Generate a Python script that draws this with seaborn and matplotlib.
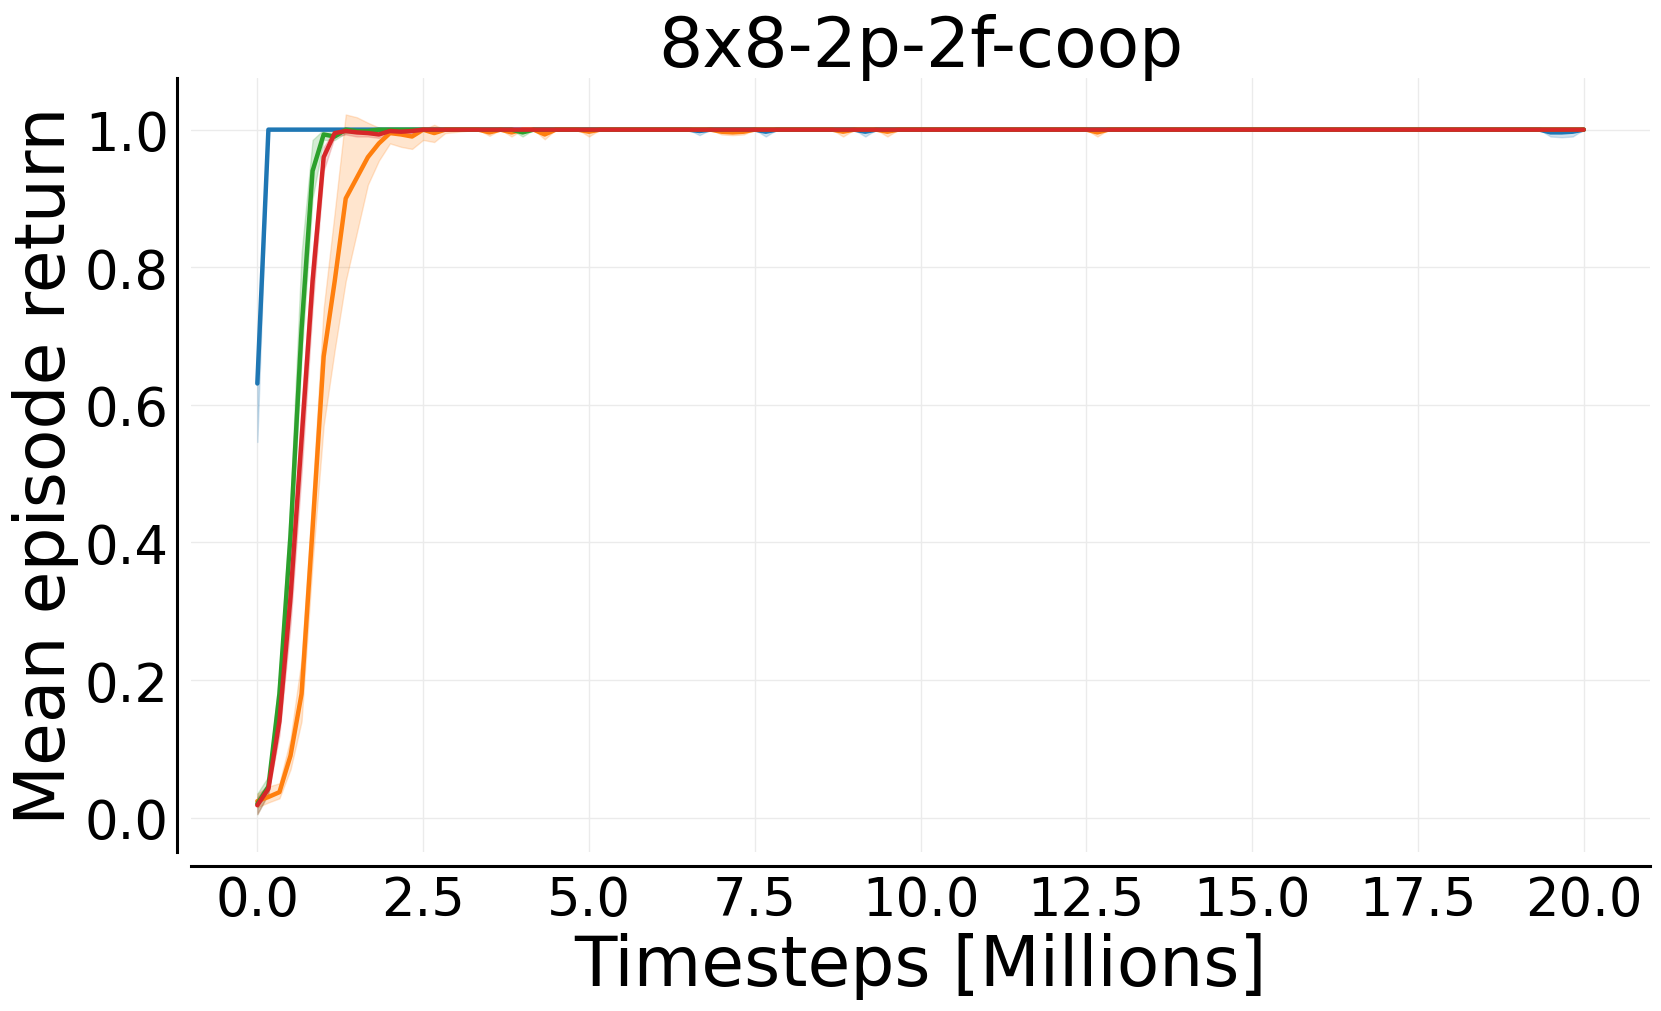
import numpy as np
import pandas as pd
import matplotlib
matplotlib.use("Agg")
import matplotlib.pyplot as plt
import seaborn as sns

# ---------------- data ----------------
title = "8x8-2p-2f-coop"
xlabel = "Timesteps [Millions]"
ylabel = "Mean episode return"
xticks = [0.0, 2.5, 5.0, 7.5, 10.0, 12.5, 15.0, 17.5, 20.0]
yticks = [0.0, 0.2, 0.4, 0.6, 0.8, 1.0]

blue_x = [0.0, 0.167, 6.5, 6.667, 6.833, 7.5, 7.667, 7.833, 9.0, 9.167, 9.333,
          19.333, 19.5, 19.667, 19.833, 20.0]
blue_mean = [0.631, 1.0, 1.0, 0.998, 1.0, 1.0, 0.997, 1.0, 1.0, 0.997, 1.0,
             1.0, 0.996, 0.996, 0.997, 1.0]
blue_lo = [0.546, 1.0, 1.0, 0.992, 1.0, 1.0, 0.99, 1.0, 1.0, 0.99, 1.0,
           1.0, 0.99, 0.989, 0.99, 1.0]
blue_hi = [0.68, 1.0, 1.0, 1.0, 1.0, 1.0, 1.0, 1.0, 1.0, 1.0, 1.0,
           1.0, 1.0, 1.0, 1.0, 1.0]

orange_x = [0.0, 0.167, 0.333, 0.5, 0.667, 0.833, 1.0, 1.167, 1.333, 1.5,
            1.667, 1.833, 2.0, 2.167, 2.333, 2.5, 2.667, 2.833, 3.333, 3.5,
            3.667, 3.833, 4.0, 4.167, 4.333, 4.5, 4.833, 5.0, 5.167, 6.833,
            7.0, 7.167, 7.333, 7.5, 8.667, 8.833, 9.0, 9.333, 9.5, 9.667,
            12.5, 12.667, 12.833, 20.0]
orange_mean = [0.024, 0.03, 0.037, 0.09, 0.18, 0.42, 0.67, 0.78, 0.90, 0.93,
               0.96, 0.98, 0.995, 0.993, 0.99, 1.0, 0.995, 1.0, 1.0, 0.996,
               1.0, 0.996, 1.0, 1.0, 0.993, 1.0, 1.0, 0.997, 1.0, 1.0,
               0.997, 0.996, 0.997, 1.0, 1.0, 0.997, 1.0, 1.0, 0.997, 1.0,
               1.0, 0.996, 1.0, 1.0]
orange_lo = [0.015, 0.022, 0.028, 0.07, 0.14, 0.37, 0.57, 0.68, 0.78, 0.85,
             0.92, 0.955, 0.98, 0.975, 0.972, 0.985, 0.982, 0.995, 1.0, 0.991,
             1.0, 0.99, 1.0, 1.0, 0.986, 1.0, 1.0, 0.99, 1.0, 1.0,
             0.993, 0.992, 0.993, 1.0, 1.0, 0.99, 1.0, 1.0, 0.99, 1.0,
             1.0, 0.99, 1.0, 1.0]
orange_hi = [0.035, 0.045, 0.05, 0.115, 0.23, 0.47, 0.74, 0.88, 1.022, 1.018,
             1.01, 1.003, 1.0, 1.0, 1.003, 1.0, 1.007, 1.0, 1.0, 1.0,
             1.0, 1.0, 1.0, 1.0, 1.0, 1.0, 1.0, 1.0, 1.0, 1.0,
             1.002, 1.002, 1.002, 1.0, 1.0, 1.0, 1.0, 1.0, 1.0, 1.0,
             1.0, 1.0, 1.0, 1.0]

green_x = [0.0, 0.167, 0.333, 0.5, 0.667, 0.833, 1.0, 1.167, 1.333, 1.5,
           1.667, 1.833, 2.0, 3.833, 4.0, 4.167, 20.0]
green_mean = [0.02, 0.045, 0.18, 0.41, 0.71, 0.94, 0.993, 0.99, 1.0, 0.998,
              0.998, 1.0, 1.0, 1.0, 0.996, 1.0, 1.0]
green_lo = [0.005, 0.035, 0.15, 0.37, 0.67, 0.90, 0.985, 0.985, 0.995, 0.995,
            0.995, 0.998, 1.0, 1.0, 0.99, 1.0, 1.0]
green_hi = [0.035, 0.06, 0.21, 0.46, 0.82, 0.985, 1.0, 1.0, 1.0, 1.0,
            1.0, 1.0, 1.0, 1.0, 1.0, 1.0, 1.0]

red_x = [0.0, 0.167, 0.333, 0.5, 0.667, 0.833, 1.0, 1.167, 1.333, 1.5,
         1.667, 1.833, 2.0, 2.167, 2.333, 2.5, 20.0]
red_mean = [0.018, 0.042, 0.14, 0.32, 0.55, 0.78, 0.96, 0.995, 0.998, 0.996,
            0.995, 0.993, 0.998, 0.997, 0.998, 1.0, 1.0]
red_lo = [0.005, 0.035, 0.12, 0.28, 0.50, 0.74, 0.94, 0.99, 0.993, 0.99,
          0.99, 0.988, 0.995, 0.993, 0.995, 1.0, 1.0]
red_hi = [0.03, 0.05, 0.16, 0.35, 0.60, 0.82, 0.975, 1.0, 1.0, 1.0,
          1.0, 1.0, 1.0, 1.0, 1.0, 1.0, 1.0]

series = [
    ("#1f77b4", blue_x, blue_mean, blue_lo, blue_hi),
    ("#ff7f0e", orange_x, orange_mean, orange_lo, orange_hi),
    ("#2ca02c", green_x, green_mean, green_lo, green_hi),
    ("#d62728", red_x, red_mean, red_lo, red_hi),
]

# ---------------- plotting ----------------
sns.set_theme(style="white")
plt.rcParams['font.family'] = ['DejaVu Sans']
plt.rcParams['text.color'] = 'black'
plt.rcParams['axes.labelcolor'] = 'black'
plt.rcParams['xtick.color'] = 'black'
plt.rcParams['ytick.color'] = 'black'

fig = plt.figure(figsize=(16.61, 10.12), dpi=100)
ax = fig.add_axes([0.115, 0.1571, 0.8784, 0.7648])

for color, xs, m, lo, hi in series:
    ax.fill_between(xs, lo, hi, color=color, alpha=0.2, linewidth=1)
    sns.lineplot(x=xs, y=m, color=color, linewidth=3.2, ax=ax, sort=False)

ax.set_xticks(xticks)
ax.set_yticks(yticks)
ax.set_xlim(-1.0, 21.0)
ax.set_ylim(-0.05, 1.075)
ax.grid(True, color="#ebebeb", linewidth=1)
ax.set_axisbelow(True)
ax.tick_params(axis="both", length=0, labelsize=38, pad=6, colors="black")

ax.set_title(title, fontsize=50, pad=9, color="black")
ax.set_xlabel(xlabel, fontsize=50, color="black")
ax.set_ylabel(ylabel, fontsize=50, color="black")

sns.despine(ax=ax, offset=10)
for s in ("left", "bottom"):
    ax.spines[s].set_color("black")
    ax.spines[s].set_linewidth(2.2)

fig.savefig("out.png", dpi=100)
